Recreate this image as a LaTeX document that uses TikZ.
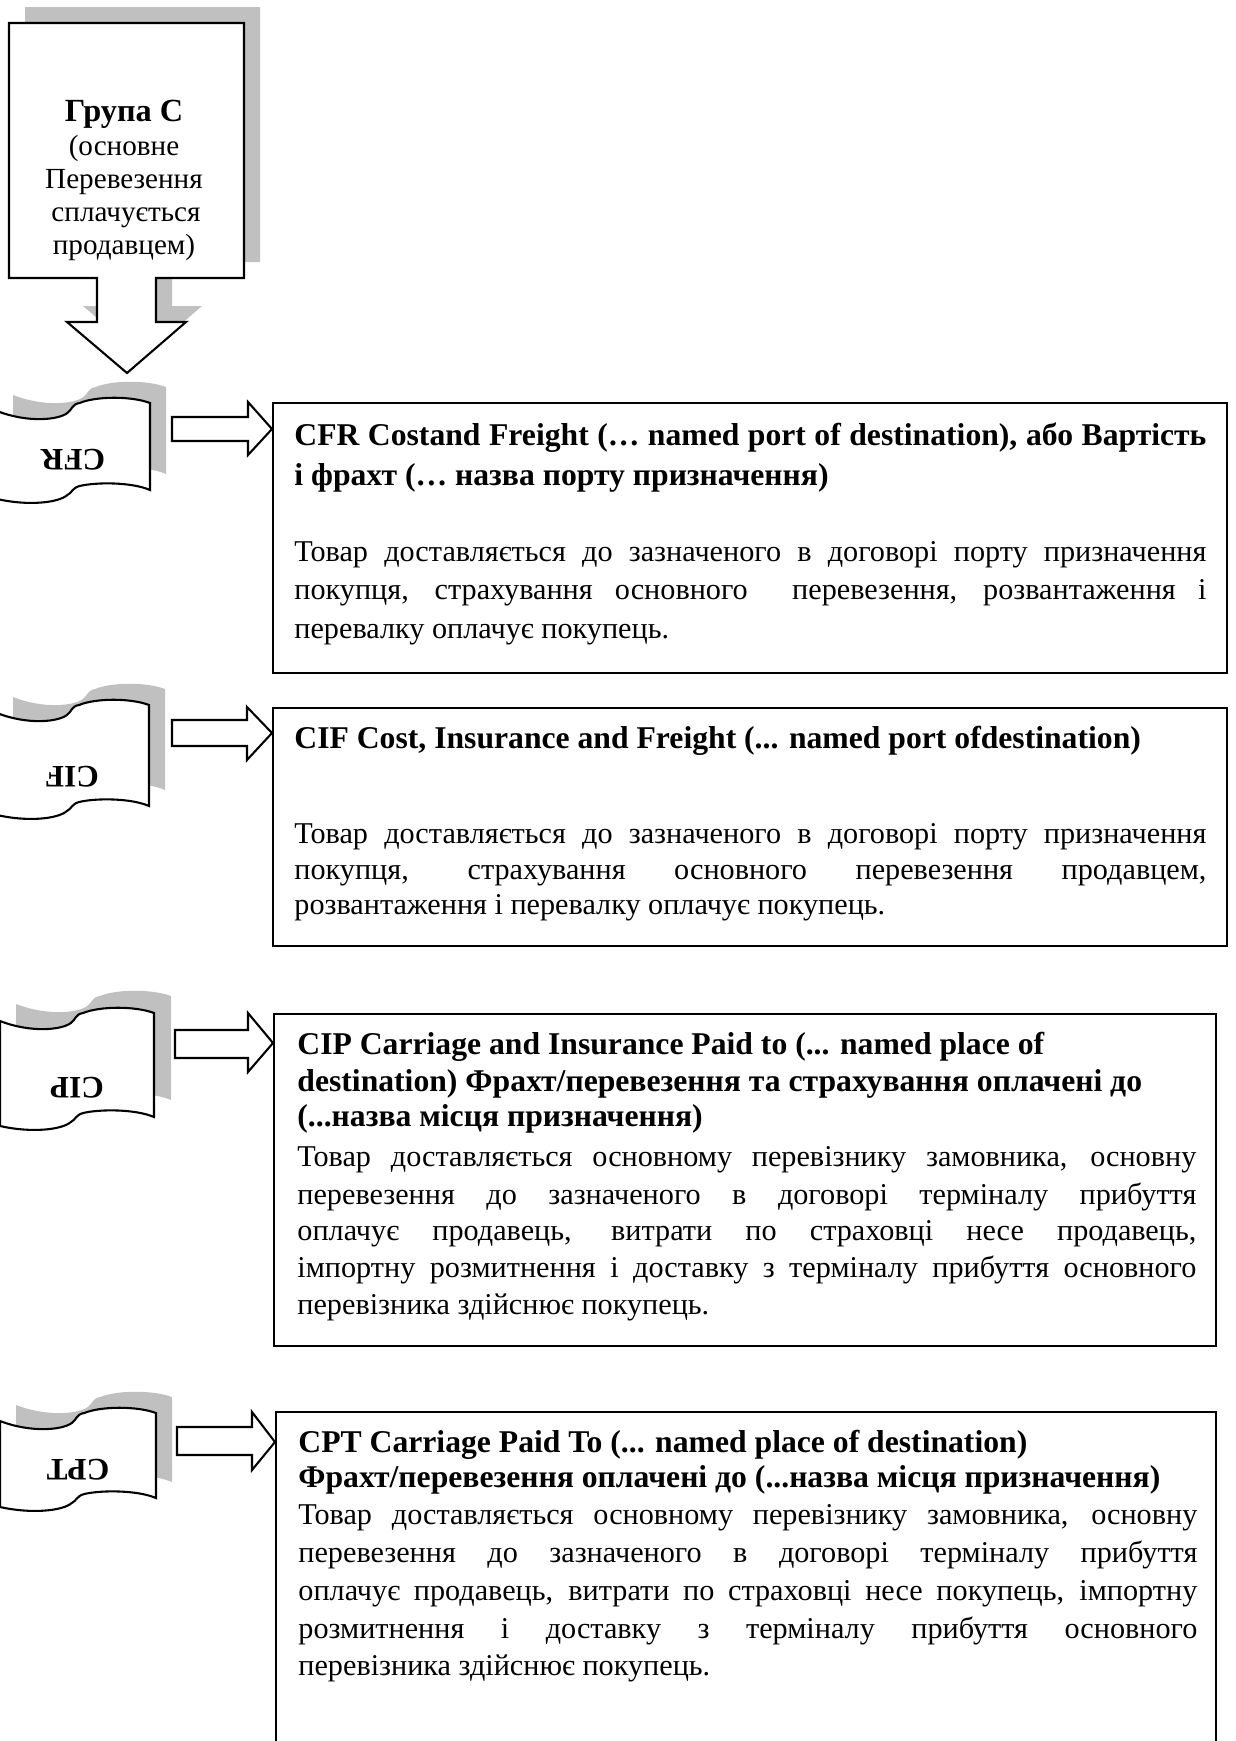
\documentclass[tikz,border=0pt]{standalone}
\usepackage{fontspec}
\setmainfont{Liberation Serif}
\definecolor{shade}{RGB}{192,192,192}
\newcommand\fsz{\fontsize{14.5pt}{17pt}\selectfont}
\newcommand\hsz{\fontsize{15.2pt}{17pt}\selectfont}
\newcommand\tsz{\fontsize{14pt}{17pt}\selectfont}
\newcommand\jla[1]{\makebox[437.8pt][s]{#1}}
\newcommand\jlb[1]{\makebox[431.5pt][s]{#1}}
\tikzset{
  shadowfill/.style={fill=shade, draw=none},
  outline/.style={draw=black, line width=1pt, fill=white, line join=miter},
  txt/.style={anchor=base west, inner sep=0pt, font=\fsz},
  hd/.style={anchor=base west, inner sep=0pt, font=\hsz\bfseries},
  ctr/.style={anchor=base, inner sep=0pt, font=\tsz},
  lab/.style={rotate=180, inner sep=0pt, font=\fontsize{15pt}{17pt}\selectfont\bfseries},
  boxline/.style={draw=black, line width=1pt},
  callout/.style={insert path={(9,23) -- (244,23) -- (244,278) -- (156,278) -- (156,322) -- (186,322) -- (127,373) -- (67,322) -- (97,322) -- (97,278) -- (9,278) -- cycle}},
  scrollp/.style n args={4}{insert path={
    ({#1},{#3+8}) .. controls ({#1+0.2*((#2)-(#1))},{#3+20}) and ({#1+0.4*((#2)-(#1))},{#3+17}) .. ({#1+0.46*((#2)-(#1))},{#3+10})
    .. controls ({#1+0.49*((#2)-(#1))},{#3+7}) and ({#1+0.49*((#2)-(#1))},{#3+1}) .. ({#1+0.54*((#2)-(#1))},{#3})
    .. controls ({#1+0.65*((#2)-(#1))},{#3-7}) and ({#1+0.88*((#2)-(#1))},{#3-7}) .. ({#2},{#3})
    -- ({#2},{#3+#4})
    .. controls ({#1+0.88*((#2)-(#1))},{#3+#4-8}) and ({#1+0.65*((#2)-(#1))},{#3+#4-8}) .. ({#1+0.54*((#2)-(#1))},{#3+#4-4})
    .. controls ({#1+0.49*((#2)-(#1))},{#3+#4-2}) and ({#1+0.49*((#2)-(#1))},{#3+#4+3}) .. ({#1+0.46*((#2)-(#1))},{#3+#4+5})
    .. controls ({#1+0.4*((#2)-(#1))},{#3+#4+13}) and ({#1+0.2*((#2)-(#1))},{#3+#4+16}) .. ({#1},{#3+#4+9})
    -- cycle}}
}
\begin{document}
\begin{tikzpicture}[x=0.48pt,y=-0.48pt]
\useasboundingbox (0,0) rectangle (1235,1741);
\clip (0,0) rectangle (1235,1741);

% ---- top callout (Group C) ----
\path[shadowfill, shift={(16,-16)}, callout];
\path[outline, callout];
\node[ctr, font=\fontsize{15.5pt}{17pt}\selectfont\bfseries] (g1) at (124,121) {Група C};
\node[ctr] (g2) at (124,155) {(основне};
\node[ctr] (g3) at (124,188) {Перевезення};
\node[ctr] (g4) at (126,221) {сплачується};
\node[ctr] (g5) at (124,254) {продавцем)};

% ---- scrolls ----
\path[shadowfill, scrollp={13}{166}{387}{87}];
\path[outline, scrollp={-3}{150}{403}{87}];
\node[lab] (cfr) at (73,460) {CFR};

\path[shadowfill, scrollp={13}{165}{689}{101}];
\path[outline, scrollp={-3}{149}{705}{101}];
\node[lab] (cif) at (72,777) {CIF};

\path[shadowfill, scrollp={16}{171}{996}{104}];
\path[outline, scrollp={0}{154}{1013}{104}];
\node[lab] (cip) at (77,1088) {CIP};

\path[shadowfill, scrollp={16}{172}{1397}{85}];
\path[outline, scrollp={0}{156}{1413}{85}];
\node[lab] (cpt) at (78,1470) {CPT};

% ---- block arrows ----
\draw[outline] (172,417) -- (248,417) -- (248,402) -- (272,429) -- (248,455) -- (248,441) -- (172,441) -- cycle;
\draw[outline] (172,720) -- (247,720) -- (247,707) -- (272,733) -- (247,760) -- (247,746) -- (172,746) -- cycle;
\draw[outline] (175,1030) -- (248,1030) -- (248,1013) -- (273,1043) -- (248,1072) -- (248,1058) -- (175,1058) -- cycle;
\draw[outline] (177,1427) -- (252,1427) -- (252,1412) -- (275,1442) -- (252,1470) -- (252,1455) -- (177,1455) -- cycle;

% ---- boxes ----
\draw[boxline] (273,403) rectangle (1227,673);
\draw[boxline] (273,708) rectangle (1227,946);
\draw[boxline] (274,1014) rectangle (1216,1346);
\draw[boxline] (276,1412) rectangle (1216,1800);

% ---- CFR text ----
\node[hd] (cfrh1) at (294,445) {\jla{CFR Costand Freight (… named port of destination), або Вартість}};
\node[hd] (cfrh2) at (294,485) {і фрахт (… назва порту призначення)};
\node[txt] (cfrb1) at (294,561) {\jla{Товар доставляється до зазначеного в договорі порту призначення}};
\node[txt] (cfrb2) at (294,599) {\jla{покупця, страхування основного\ \ перевезення, розвантаження і}};
\node[txt] (cfrb3) at (294,638) {перевалку оплачує покупець.};

% ---- CIF text ----
\node[hd] (cifh1) at (294,748) {CIF Cost, Insurance and Freight (... named port ofdestination)};
\node[txt] (cifb1) at (294,843) {\jla{Товар доставляється до зазначеного в договорі порту призначення}};
\node[txt] (cifb2) at (294,879) {\jla{покупця, страхування основного перевезення продавцем,}};
\node[txt] (cifb3) at (294,914) {розвантаження і перевалку оплачує покупець.};

% ---- CIP text ----
\node[hd] (ciph1) at (297,1054) {CIP Carriage and Insurance Paid to (... named place of};
\node[hd] (ciph2) at (297,1091) {destination) Фрахт/перевезення та страхування оплачені до};
\node[hd] (ciph3) at (297,1126) {(...назва місця призначення)};
\node[txt] (cipb1) at (297,1166) {\jlb{Товар доставляється основному перевізнику замовника, основну}};
\node[txt] (cipb2) at (297,1204) {\jlb{перевезення до зазначеного в договорі терміналу прибуття}};
\node[txt] (cipb3) at (297,1240) {\jlb{оплачує продавець, витрати по страховці несе продавець,}};
\node[txt] (cipb4) at (297,1277) {\jlb{імпортну розмитнення і доставку з терміналу прибуття основного}};
\node[txt] (cipb5) at (297,1314) {перевізника здійснює покупець.};

% ---- CPT text ----
\node[hd] (cpth1) at (298,1452) {CPT Carriage Paid To (... named place of destination)};
\node[hd] (cpth2) at (298,1487) {Фрахт/перевезення оплачені до (...назва місця призначення)};
\node[txt] (cptb1) at (298,1524) {\jlb{Товар доставляється основному перевізнику замовника, основну}};
\node[txt] (cptb2) at (298,1562) {\jlb{перевезення до зазначеного в договорі терміналу прибуття}};
\node[txt] (cptb3) at (298,1600) {\jlb{оплачує продавець, витрати по страховці несе покупець, імпортну}};
\node[txt] (cptb4) at (298,1638) {\jlb{розмитнення і доставку з терміналу прибуття основного}};
\node[txt] (cptb5) at (298,1675) {перевізника здійснює покупець.};
\end{tikzpicture}
\end{document}
